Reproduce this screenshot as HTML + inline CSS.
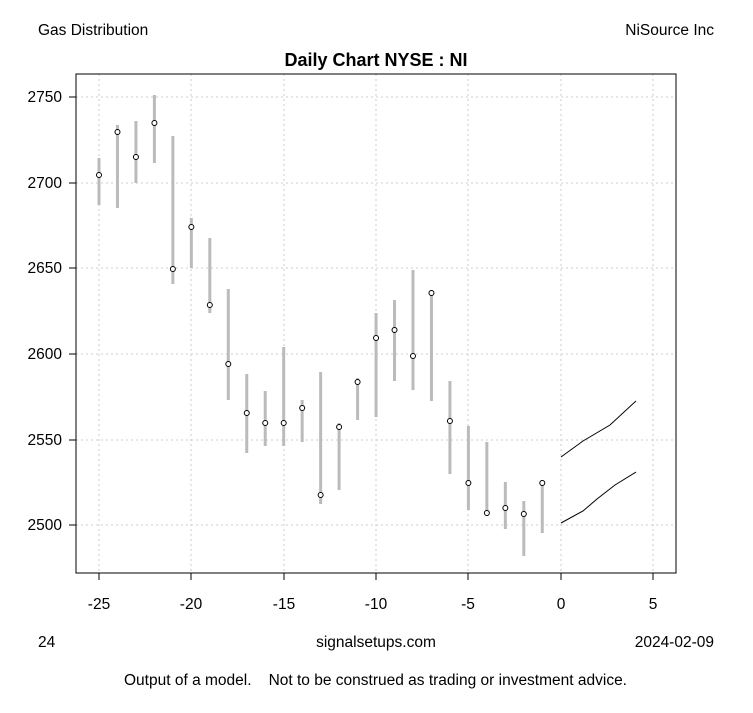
<!DOCTYPE html>
<html><head><meta charset="utf-8"><style>
body{margin:0;background:#fff;}
svg text{font-family:"Liberation Sans",Arial,sans-serif;}
</style></head><body>
<svg width="753" height="708" viewBox="0 0 753 708" xmlns="http://www.w3.org/2000/svg">
<rect width="753" height="708" fill="#fff"/>
<text x="38" y="35" font-size="15.5">Gas Distribution</text>
<text x="714" y="35" font-size="15.5" text-anchor="end">NiSource Inc</text>
<text x="376" y="66" font-size="18" font-weight="bold" text-anchor="middle">Daily Chart NYSE : NI</text>
<g stroke="#ccc" stroke-dasharray="2,3" stroke-width="1">
<line x1="99" y1="74" x2="99" y2="573"/><line x1="191" y1="74" x2="191" y2="573"/><line x1="284" y1="74" x2="284" y2="573"/><line x1="376" y1="74" x2="376" y2="573"/><line x1="468" y1="74" x2="468" y2="573"/><line x1="561" y1="74" x2="561" y2="573"/><line x1="653" y1="74" x2="653" y2="573"/>
<line x1="76" y1="97" x2="676" y2="97"/><line x1="76" y1="183" x2="676" y2="183"/><line x1="76" y1="268" x2="676" y2="268"/><line x1="76" y1="354" x2="676" y2="354"/><line x1="76" y1="440" x2="676" y2="440"/><line x1="76" y1="525" x2="676" y2="525"/>
</g>
<rect x="76" y="74" width="600" height="499" fill="none" stroke="#000"/>
<g stroke="#000">
<line x1="99" y1="573" x2="99" y2="580"/><line x1="191" y1="573" x2="191" y2="580"/><line x1="284" y1="573" x2="284" y2="580"/><line x1="376" y1="573" x2="376" y2="580"/><line x1="468" y1="573" x2="468" y2="580"/><line x1="561" y1="573" x2="561" y2="580"/><line x1="653" y1="573" x2="653" y2="580"/>
<line x1="69" y1="97" x2="76" y2="97"/><line x1="69" y1="183" x2="76" y2="183"/><line x1="69" y1="268" x2="76" y2="268"/><line x1="69" y1="354" x2="76" y2="354"/><line x1="69" y1="440" x2="76" y2="440"/><line x1="69" y1="525" x2="76" y2="525"/>
</g>
<g font-size="15.5" text-anchor="middle">
<text x="99" y="609">-25</text><text x="191" y="609">-20</text><text x="284" y="609">-15</text><text x="376" y="609">-10</text><text x="468" y="609">-5</text><text x="561" y="609">0</text><text x="653" y="609">5</text>
</g>
<g font-size="15.5" text-anchor="end">
<text x="62" y="102">2750</text><text x="62" y="188">2700</text><text x="62" y="273">2650</text><text x="62" y="359">2600</text><text x="62" y="445">2550</text><text x="62" y="530">2500</text>
</g>
<g stroke="#bbb" stroke-width="3" id="bars"></g>
<g id="dots"></g>
<polyline points="561,457 583,441 610,425 636,401" fill="none" stroke="#000"/>
<polyline points="561,523 583,511 597,499 615,485 636,472" fill="none" stroke="#000"/>
<text x="38" y="647" font-size="15.5">24</text>
<text x="376" y="647" font-size="15.5" text-anchor="middle">signalsetups.com</text>
<text x="714" y="647" font-size="15.5" text-anchor="end">2024-02-09</text>
<text x="124" y="685" font-size="15.5">Output of a model.</text>
<text x="627" y="685" font-size="15.5" text-anchor="end">Not to be construed as trading or investment advice.</text>
<script>
var d=[[158,205,175],[125,208,132],[121,183,157],[95,163,123],[136,284,269],[218,268,227],[238,313,305],[289,400,364],[374,453,413],[391,446,423],[347,446,423],[400,442,408],[372,504,495],[423,490,427],[378,420,382],[313,417,338],[300,381,330],[270,390,356],[290,401,293],[381,474,421],[426,510,483],[442,516,513],[482,529,508],[501,556,514],[480,533,483]];
var b=document.getElementById('bars'),o=document.getElementById('dots'),ns='http://www.w3.org/2000/svg';
d.forEach(function(v,i){var x=99+i*18.47;var l=document.createElementNS(ns,'line');l.setAttribute('x1',x);l.setAttribute('x2',x);l.setAttribute('y1',v[0]);l.setAttribute('y2',v[1]);b.appendChild(l);
var c=document.createElementNS(ns,'circle');c.setAttribute('cx',x);c.setAttribute('cy',v[2]);c.setAttribute('r',2.5);c.setAttribute('fill','#fff');c.setAttribute('stroke','#000');o.appendChild(c);});
</script>
</svg>
</body></html>
